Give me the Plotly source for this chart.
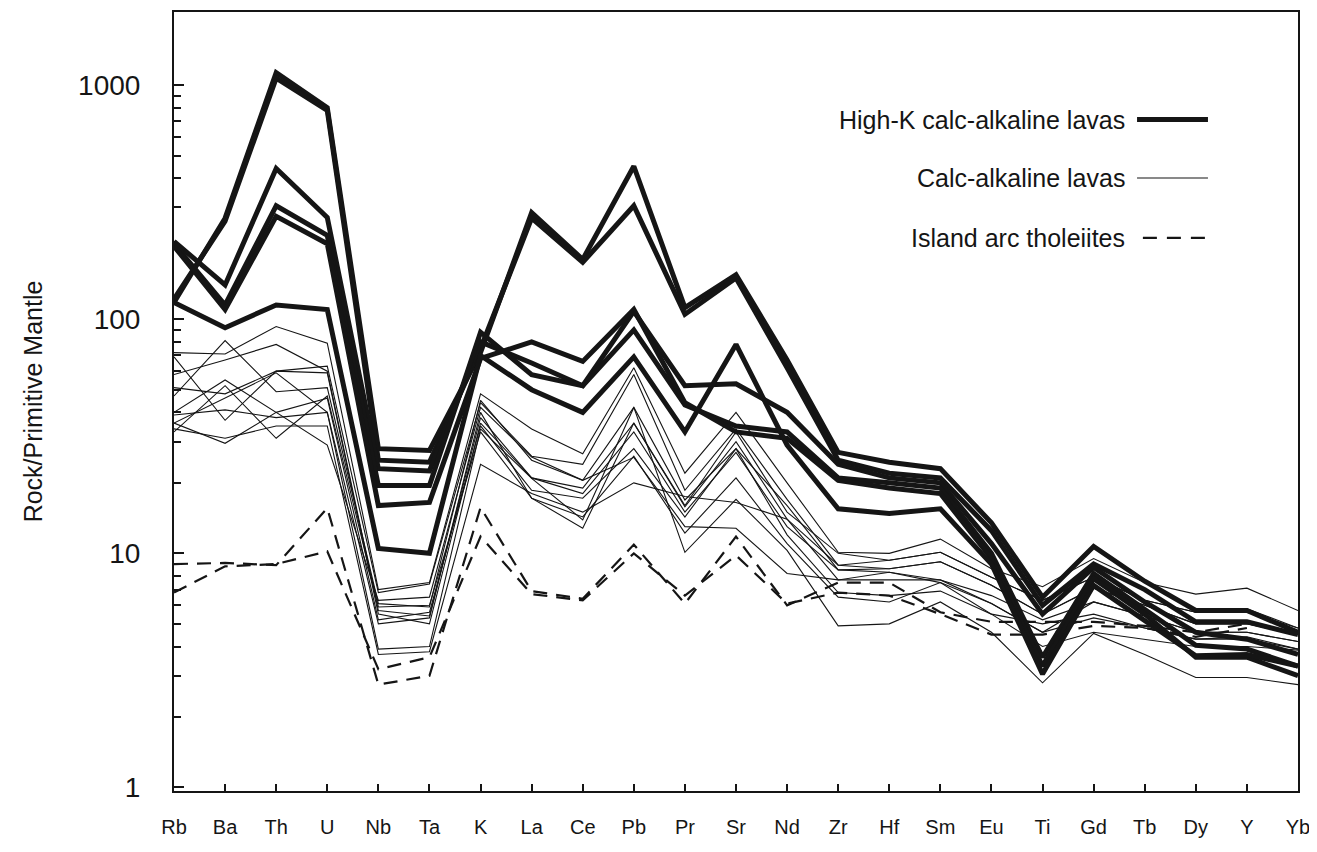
import plotly.graph_objects as go

# ---------------- data ----------------
elements = ["Rb", "Ba", "Th", "U", "Nb", "Ta", "K", "La", "Ce", "Pb", "Pr", "Sr",
            "Nd", "Zr", "Hf", "Sm", "Eu", "Ti", "Gd", "Tb", "Dy", "Y", "Yb"]

# High-K calc-alkaline lavas (thick lines)
hk1 = [118, 270, 1130, 800, 28, 27.5, 72, 285, 180, 450, 112, 155, 67, 27, 24.5, 23, 13.5, 6.5, 10.7, 7.6, 5.7, 5.7, 4.6]
hk2 = [122, 262, 1070, 780, 25, 24.5, 75, 270, 175, 305, 105, 150, 62, 25, 22, 21, 12.5, 6.0, 9.0, 7.0, 5.1, 5.1, 4.5]
hk3 = [215, 140, 440, 272, 23, 22.5, 80, 65, 52, 108, 52, 53, 40, 24, 21, 20, 11, 5.5, 8.7, 6.2, 4.6, 4.3, 3.7]
hk4 = [210, 115, 305, 228, 19.5, 19.5, 88, 58, 52, 90, 43, 35, 33, 21, 20, 19, 10, 3.6, 8.2, 5.8, 4.05, 3.9, 3.3]
hk5 = [205, 110, 275, 210, 16, 16.5, 68, 80, 66, 110, 44, 33, 31, 20.5, 19, 18, 9.5, 3.3, 7.8, 5.5, 3.6, 3.6, 3.0]
hk6 = [118, 92, 115, 110, 10.5, 10, 70, 50, 40, 69, 33, 78, 29, 15.5, 14.8, 15.5, 9, 3.05, 7.3, 5.2, 3.65, 3.7, 3.3]

# Calc-alkaline lavas (thin lines)
ca1 = [72, 71, 93, 79, 7.0, 7.5, 48, 34, 26.6, 62, 22, 40, 20, 10.1, 10.0, 11.5, 8.6, 7.2, 9.5, 7.5, 6.7, 7.1, 5.7]
ca2 = [69, 37, 60, 63, 6.8, 7.4, 44, 26, 24, 58, 18.6, 34, 17, 8.9, 9.35, 10.1, 7.9, 6.3, 7.9, 6.3, 5.6, 5.6, 4.8]
ca3 = [47, 81, 49, 51, 6.1, 5.9, 45, 25, 20.5, 42, 16.9, 28, 16, 8.5, 8.6, 9.2, 7.3, 5.5, 7.1, 6.0, 5.0, 5.0, 4.5]
ca4 = [58, 67, 78, 60, 5.7, 5.4, 38, 21, 19, 36, 15.8, 30, 14, 7.7, 8.3, 7.7, 6.6, 5.2, 6.2, 5.4, 4.6, 4.6, 4.2]
ca5 = [51, 48, 60, 59, 5.5, 5.0, 36, 21, 18, 33, 15, 27, 13, 8.5, 8.3, 7.5, 6.1, 4.6, 5.3, 4.8, 4.3, 4.3, 3.9]
ca6 = [40, 55, 40, 46, 5.2, 5.6, 35, 18.6, 17.2, 28, 14.3, 28, 12, 6.8, 6.6, 6.9, 5.5, 4.0, 4.6, 4.3, 4.0, 4.0, 3.86]
ca7 = [36, 46, 59, 40, 5.0, 5.3, 40, 17.2, 14.3, 26, 12.2, 21, 11, 6.5, 6.2, 7.5, 5.5, 5.0, 5.5, 4.8, 4.3, 4.4, 3.9]
ca8 = [39, 41, 38, 40, 3.9, 4.0, 34, 20.9, 13.9, 42, 10.1, 17, 10.3, 4.9, 5.0, 6.2, 4.6, 2.8, 4.55, 3.7, 2.95, 2.95, 2.75]
ca9 = [34, 31, 35, 35, 3.7, 3.8, 24, 18, 15, 20, 17.5, 16.5, 14, 8.9, 8.6, 9.2, 7.3, 5.5, 7.1, 6.0, 5.0, 5.0, 4.5]
ca10 = [36, 29.5, 40, 29, 6.3, 6.5, 42, 25.8, 20.5, 25.7, 13, 12.8, 8.2, 7.7, 7.7, 7.7, 6.1, 4.6, 6.2, 5.4, 4.6, 4.6, 4.2]
ca11 = [33, 52, 31, 47, 5.9, 6.0, 33, 17.2, 12.8, 36, 16, 33, 15, 10, 9.35, 10.1, 7.9, 6.3, 7.9, 6.3, 5.6, 5.8, 4.8]

# Island arc tholeiites (dashed lines)
iat1 = [9.0, 9.1, 8.9, 15.6, 2.75, 3.0, 15.7, 6.9, 6.4, 10.9, 6.1, 11.8, 6.0, 7.5, 7.5, 5.6, 5.1, 5.1, 5.1, 4.9, 4.6, 5.0, None]
iat2 = [6.8, 8.8, 9.0, 10.2, 3.2, 3.6, 11.8, 6.7, 6.3, 10.0, 6.6, 9.8, 6.1, 6.8, 6.6, 5.5, 4.5, 4.5, 4.9, 4.8, 4.4, 4.8, None]

high_k_series = [hk1, hk2, hk3, hk4, hk5, hk6]
calc_alk_series = [ca1, ca2, ca3, ca4, ca5, ca6, ca7, ca8, ca9, ca10, ca11]
iat_series = [iat1, iat2]

legend_labels = ["High-K calc-alkaline lavas", "Calc-alkaline lavas", "Island arc tholeiites"]

# ---------------- figure ----------------
INK = "#151515"
FONT = "Liberation Sans, Arial, sans-serif"
xpos = list(range(len(elements)))

fig = go.Figure()

for s in calc_alk_series:
    fig.add_trace(go.Scatter(x=xpos, y=s, mode="lines",
                             line=dict(color=INK, width=1.1),
                             showlegend=False, hoverinfo="skip"))
for s in iat_series:
    fig.add_trace(go.Scatter(x=xpos, y=s, mode="lines",
                             line=dict(color=INK, width=2.2, dash="14px,9px"),
                             showlegend=False, hoverinfo="skip"))
for s in high_k_series:
    fig.add_trace(go.Scatter(x=xpos, y=s, mode="lines",
                             line=dict(color=INK, width=5),
                             showlegend=False, hoverinfo="skip"))

minor_vals = [m * 10 ** e for e in range(3) for m in range(2, 10)]

fig.update_xaxes(
    range=[0, len(elements) - 1],
    tickvals=xpos, ticktext=elements,
    ticks="inside", ticklen=7, tickwidth=1.5, tickcolor=INK,
    showline=True, linecolor=INK, linewidth=2, mirror=True,
    showgrid=False, zeroline=False,
    tickfont=dict(family=FONT, size=20, color=INK),
    ticklabelstandoff=17,
    ticklabeloverflow="allow",
    automargin=False,
)
fig.update_yaxes(
    type="log", range=[-0.015, 3.312],
    tickvals=[1, 10, 100, 1000], ticktext=["1", "10", "100", "1000"],
    ticks="inside", ticklen=10, tickwidth=1.8, tickcolor=INK,
    minor=dict(tickvals=minor_vals, ticks="inside", ticklen=7, tickwidth=1.8, tickcolor=INK, showgrid=False),
    showline=True, linecolor=INK, linewidth=2, mirror=True,
    showgrid=False, zeroline=False,
    tickfont=dict(family=FONT, size=28, color=INK),
    ticklabelstandoff=26,
    automargin=False,
    title=dict(text="Rock/Primitive Mantle", font=dict(family=FONT, size=25, color=INK), standoff=28),
)

# custom legend (text left, line sample right)
legend_rows_y = [0.862, 0.787, 0.71]
legend_styles = [dict(width=5), dict(width=1.1), dict(width=2.2, dash="14px,10px")]
for label, ly, st in zip(legend_labels, legend_rows_y, legend_styles):
    fig.add_annotation(x=0.8479, y=ly, xref="paper", yref="paper", text=label,
                       showarrow=False, xanchor="right", yanchor="middle",
                       font=dict(family=FONT, size=25, color=INK))
    x0 = 0.8568 if "dash" not in st else 0.862
    fig.add_shape(type="line", xref="paper", yref="paper", x0=x0, x1=0.9199, y0=ly, y1=ly,
                  line=dict(color=INK, **st))

# the page body adds an 8px margin; keep the page within the window (no scrollbars)
fig.update_layout(
    width=1301, height=836,
    margin=dict(l=166, r=11, t=4, b=53),
    paper_bgcolor="white", plot_bgcolor="white",
    showlegend=False,
)

fig.write_html("out.html")
